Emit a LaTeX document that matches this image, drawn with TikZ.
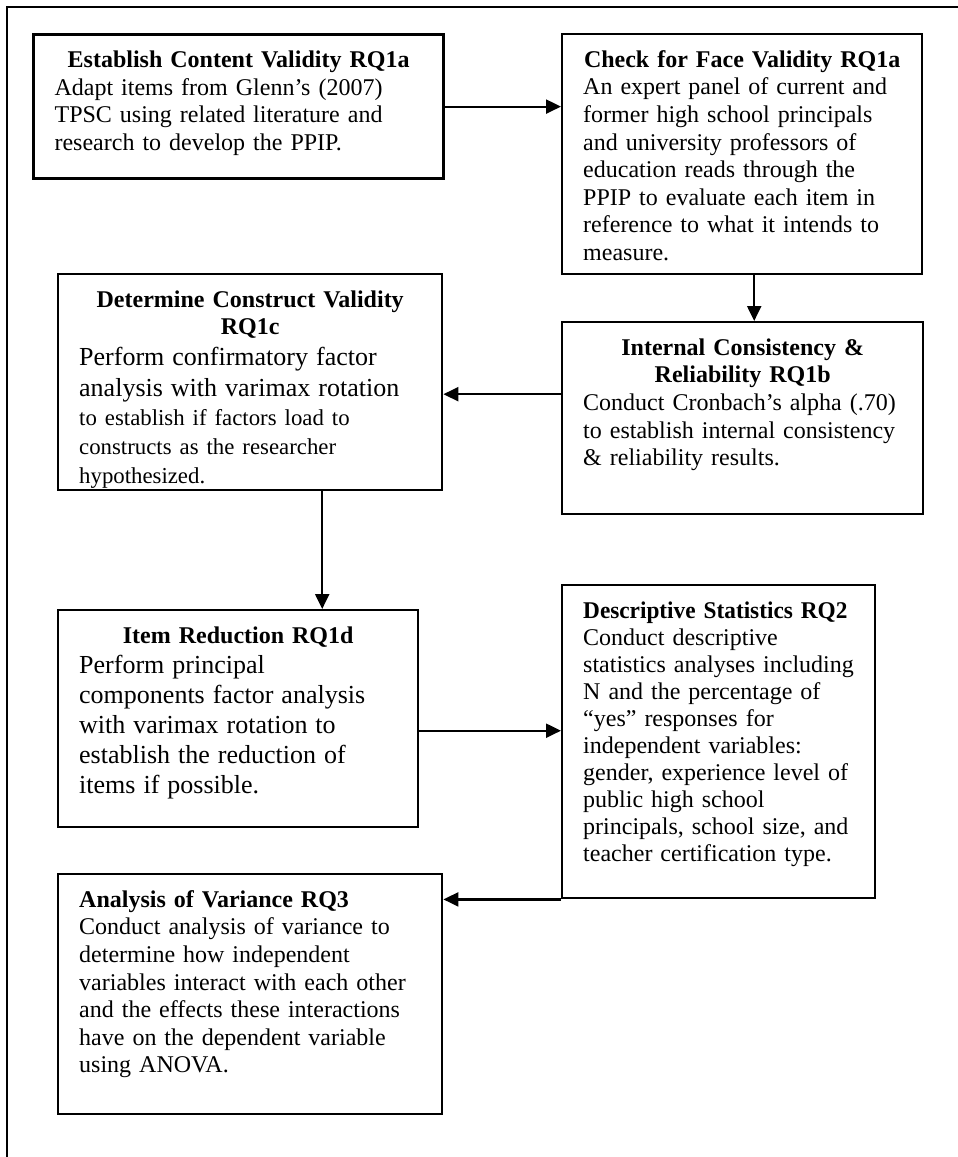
\documentclass[tikz,border=0pt]{standalone}
\usepackage{fontspec}
\setmainfont{Liberation Serif}
\newfontfamily\narrowserif[FakeStretch=0.97]{Liberation Serif}
\usetikzlibrary{arrows.meta,positioning,calc}

\begin{document}
\begin{tikzpicture}[
    x=0.5pt, y=-0.5pt,
    stage/.style={draw, line width=1.2pt, anchor=north west, inner xsep=10.5pt, inner ysep=7.5pt, text height=9pt, font=\fontsize{12}{13.8}\selectfont},
    arrow/.style={-{Triangle[length=7.5pt,width=7pt]}, line width=1.1pt},
    frame/.style={line width=1.2pt}
  ]
    \useasboundingbox (0,0) rectangle (958,1157);
    \draw[frame] (7,1200) -- (7,7) -- (1000,7);

    \node[stage, line width=1.6pt, text width=184pt, text depth=48pt] (content) at (32,33)
      {{\centering\bfseries Establish Content Validity RQ1a\par}\raggedright
       Adapt items from Glenn’s (2007)\\TPSC using related literature and\\research to develop the PPIP.};
    \node[stage, text width=159pt, text depth=96pt] (face) at (561,33)
      {{\centering\bfseries Check for Face Validity RQ1a\par}\raggedright
       An expert panel of current and\\former high school principals\\and university professors of\\education reads through the\\PPIP to evaluate each item in\\reference to what it intends to\\measure.};
    \node[stage, text width=171pt, text depth=84pt] (construct) at (57,273)
      {{\centering\bfseries Determine Construct Validity\\RQ1c\par}\raggedright
       {\fontsize{13}{15.5}\selectfont Perform confirmatory factor\\analysis with varimax rotation\par}
       {\fontsize{11.4}{14.5}\selectfont to establish if factors load to\\constructs as the researcher\\hypothesized.\par}};
    \node[stage, text width=159.5pt, text depth=72pt] (internal) at (561,321)
      {{\centering\bfseries Internal Consistency \&\\Reliability RQ1b\par}\raggedright
       Conduct Cronbach’s alpha (.70)\\to establish internal consistency\\\& reliability results.};
    \node[stage, text width=159pt, text depth=84.5pt] (itemred) at (57,609)
      {{\centering\bfseries Item Reduction RQ1d\par}\raggedright
       {\fontsize{13}{15}\selectfont Perform principal\\components factor analysis\\with varimax rotation to\\establish the reduction of\\items if possible.\par}};
    \node[stage, text width=135.5pt, text depth=132.5pt] (descriptive) at (561,584)
      {\raggedright\fontsize{12}{13.5}\selectfont\mbox{\narrowserif\bfseries Descriptive Statistics RQ2}\\
       Conduct descriptive\\statistics analyses including\\N and the percentage of\\“yes” responses for\\independent variables:\\gender, experience level of\\public high school\\principals, school size, and\\teacher certification type.};
    \node[stage, text width=171pt, text depth=96pt] (anova) at (57,873)
      {\raggedright\textbf{Analysis of Variance RQ3}\\
       Conduct analysis of variance to\\determine how independent\\variables interact with each other\\and the effects these interactions\\have on the dependent variable\\using ANOVA.};

    \draw[arrow] (content.east) -- (content.east -| face.west);
    \draw[arrow] ([xshift=6pt]face.south) -- ([xshift=6pt]face.south |- internal.north);
    \draw[arrow] ([yshift=-6pt]construct.east -| internal.west) -- ([yshift=-6pt]construct.east);
    \draw[arrow] ([xshift=36pt]construct.south) -- ([xshift=36pt]construct.south |- itemred.north);
    \draw[arrow] ([yshift=-6pt]itemred.east) -- ([yshift=-6pt]itemred.east -| descriptive.west);
    \draw[arrow] (descriptive.south west) -- (descriptive.south west -| anova.east);
  \end{tikzpicture}
\end{document}
